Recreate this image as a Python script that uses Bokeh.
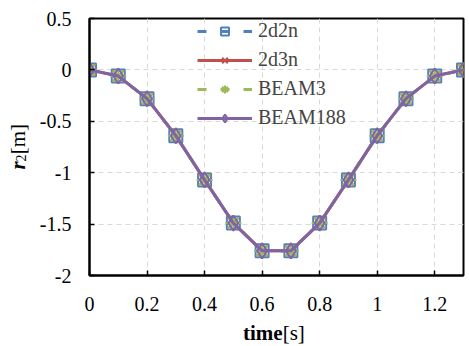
from bokeh.plotting import figure
from bokeh.layouts import column, row
from bokeh.models import Div, Legend, LegendItem, FixedTicker, Range1d
from bokeh.embed import file_html
from bokeh.resources import INLINE

time = [0.0, 0.1, 0.2, 0.3, 0.4, 0.5, 0.6, 0.7, 0.8, 0.9, 1.0, 1.1, 1.2, 1.3]
r2_2d2n = [0.0, -0.06, -0.28, -0.64, -1.07, -1.49, -1.76, -1.76, -1.49, -1.07, -0.64, -0.28, -0.06, 0.0]
r2_2d3n = [0.0, -0.06, -0.28, -0.64, -1.07, -1.49, -1.76, -1.76, -1.49, -1.07, -0.64, -0.28, -0.06, 0.0]
r2_beam3 = [0.0, -0.06, -0.28, -0.64, -1.07, -1.49, -1.76, -1.76, -1.49, -1.07, -0.64, -0.28, -0.06, 0.0]
r2_beam188 = [0.0, -0.06, -0.28, -0.64, -1.07, -1.49, -1.76, -1.76, -1.49, -1.07, -0.64, -0.28, -0.06, 0.0]
x_ticks = [0, 0.2, 0.4, 0.6, 0.8, 1.0, 1.2]
x_tick_labels = ["0", "0.2", "0.4", "0.6", "0.8", "1", "1.2"]
y_ticks = [0.5, 0, -0.5, -1, -1.5, -2]
y_tick_labels = ["0.5", "0", "-0.5", "-1", "-1.5", "-2"]

FONT = "Liberation Serif"
TICK_FONT = "'Liberation Serif'"

p = figure(width=435, height=325, output_backend="svg", toolbar_location=None,
           x_range=Range1d(0, 1.3), y_range=Range1d(-2, 0.5),
           min_border_left=55, min_border_right=6, min_border_top=18, min_border_bottom=50)
p.background_fill_color = "white"
p.border_fill_color = "white"
p.outline_line_color = "black"
p.outline_line_width = 2

p.xaxis.ticker = FixedTicker(ticks=x_ticks)
p.yaxis.ticker = FixedTicker(ticks=y_ticks)
p.xaxis.major_label_overrides = dict(zip(x_ticks, x_tick_labels))
p.yaxis.major_label_overrides = dict(zip(y_ticks, y_tick_labels))
for ax in (p.xaxis[0], p.yaxis[0]):
    ax.axis_line_color = "black"
    ax.axis_line_width = 2
    ax.major_tick_in = 5
    ax.major_tick_out = 0
    ax.major_tick_line_color = "black"
    ax.major_tick_line_width = 1.5
    ax.minor_tick_line_color = None
    ax.major_label_text_font = TICK_FONT
    ax.major_label_text_font_size = "20px"
    ax.major_label_text_color = "black"
p.xaxis[0].major_label_standoff = 21
p.yaxis[0].major_label_standoff = 18

p.grid.grid_line_color = "#D9D9D9"
p.grid.grid_line_dash = "5 4"
p.grid.grid_line_width = 1

c_blue = "#4F81BD"
c_red = "#C0504D"
c_green = "#9BBB59"
c_purple = "#8064A2"

l1 = p.line(time, r2_2d2n, line_color=c_blue, line_width=3, line_dash="9 14")
m1 = p.scatter(time, r2_2d2n, marker="square", size=13, fill_color=None, line_color=c_blue, line_width=2)
l2 = p.line(time, r2_2d3n, line_color=c_red, line_width=3)
m2 = p.scatter(time, r2_2d3n, marker="x", size=16, line_color=c_red, line_width=2)
l3 = p.line(time, r2_beam3, line_color=c_green, line_width=3, line_dash="9 14")
m3 = p.scatter(time, r2_beam3, marker="asterisk", size=16, line_color=c_green, line_width=2)
l4 = p.line(time, r2_beam188, line_color=c_purple, line_width=3)
m4 = p.scatter(time, r2_beam188, marker="diamond", size=15, fill_color=None, line_color=c_purple, line_width=2)

legend = Legend(items=[
    LegendItem(label="2d2n", renderers=[l1, m1]),
    LegendItem(label="2d3n", renderers=[l2, m2]),
    LegendItem(label="BEAM3", renderers=[l3, m3]),
    LegendItem(label="BEAM188", renderers=[l4, m4]),
], location=(108, 146))
legend.background_fill_alpha = 0
legend.border_line_color = None
legend.label_text_font = FONT
legend.label_text_font_size = "20px"
legend.glyph_width = 55
legend.glyph_height = 20
legend.spacing = 6
legend.padding = 0
legend.margin = 0
legend.label_standoff = 6
p.add_layout(legend)

# y-axis title: bold italic r, subscript 2, [m] (reads bottom to top)
ylab = Div(width=34, height=325, margin=0, text=(
    "<div style=\"writing-mode: vertical-rl; transform: rotate(180deg); "
    "font-family: 'Liberation Serif'; font-size: 21px; line-height: 21px; color: black; "
    "margin-top: 124px; margin-left: 7px; white-space: nowrap;\">"
    "<b><i>r</i></b><span style=\"font-size: 14px; position: relative; left: -4px;\">2</span>[m]</div>"))

# x-axis title: bold "time" + normal "[s]"
xlab = Div(width=469, height=21, margin=0, text=(
    "<div style=\"font-family: 'Liberation Serif'; font-size: 21px; line-height: 21px; color: black; "
    "margin-left: 243px; margin-top: -2px; white-space: nowrap;\">"
    "<b>time</b>[s]</div>"))

layout = column(row(ylab, p, spacing=0), xlab, spacing=0)

open("out.html", "w").write(file_html(layout, INLINE))
